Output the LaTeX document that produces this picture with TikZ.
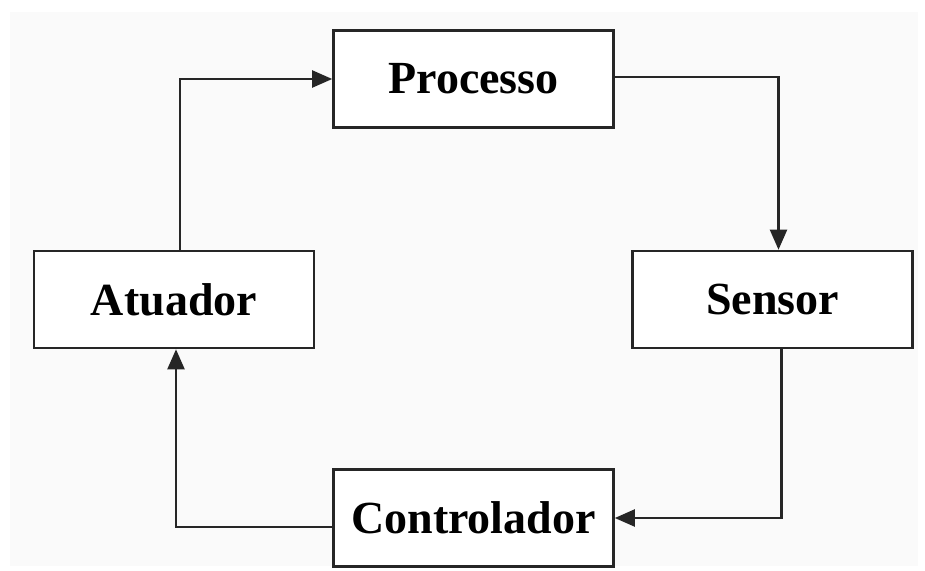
\documentclass[tikz,border=0pt]{standalone}
\usepackage{fontspec}
\setmainfont{Liberation Serif}
\usetikzlibrary{arrows.meta}
\begin{document}
\begin{tikzpicture}[x=1pt,y=-1pt,
  blockbox/.style={draw=black!85,line width=2.6pt,fill=white,minimum width=280pt,minimum height=97pt,inner sep=0pt,
    font=\fontsize{46}{50}\selectfont\bfseries},
  conn/.style={draw=black!85,line width=2.2pt,-{Triangle[length=20pt,width=17pt]}}]
\useasboundingbox (0,0) rectangle (925,570);
\fill[white] (0,0) rectangle (925,570);
\fill[black!2] (10,12) rectangle (918,566);
\node[blockbox] (proc) at (473.5,79) {Processo};
\node[blockbox] (atu) at (174,299.5) {Atuador};
\node[blockbox] (sen) at (772.5,299.5) {Sensor};
\node[blockbox] (ctl) at (473.5,518) {Controlador};
\draw[conn] ([xshift=6pt]atu.north) |- (proc.west);
\draw[conn] ([yshift=2pt]proc.east) -| ([xshift=6pt]sen.north);
\draw[conn] ([xshift=9pt]sen.south) |- (ctl.east);
\draw[conn] ([yshift=-9pt]ctl.west) -| ([xshift=2pt]atu.south);
\end{tikzpicture}
\end{document}
